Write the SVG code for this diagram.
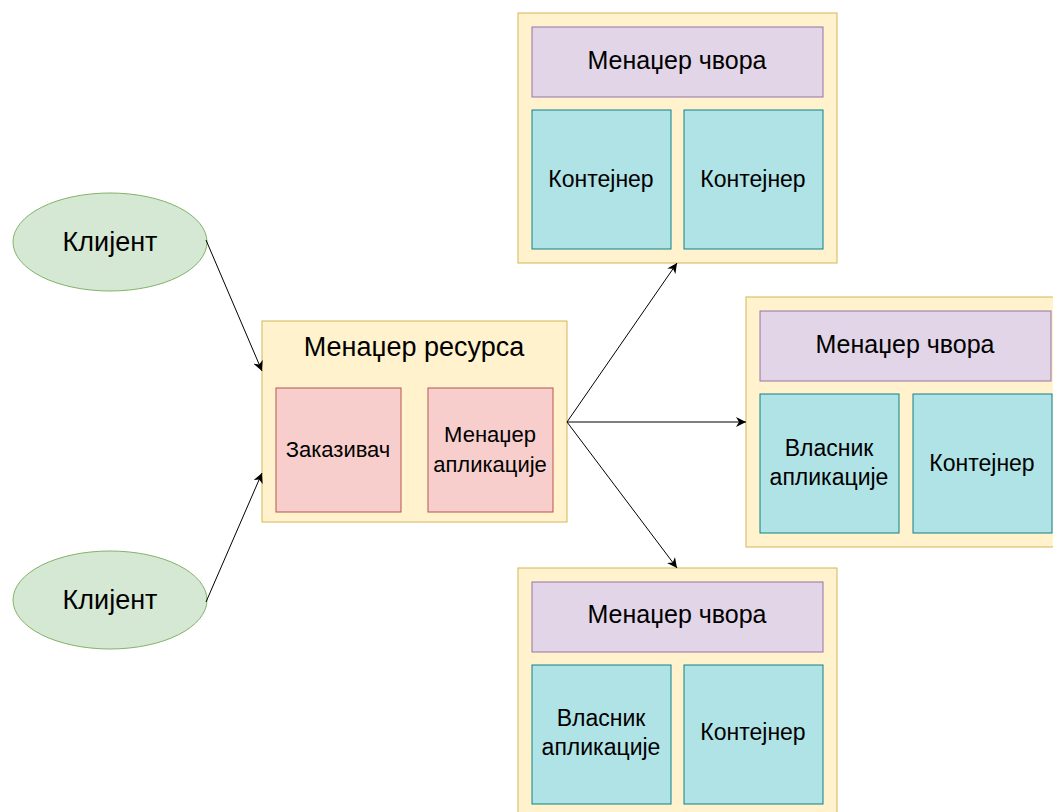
<svg xmlns="http://www.w3.org/2000/svg" width="1053" height="812" viewBox="0 0 1053 812">
  <style>
    text { font-family: "Liberation Sans", Arial, sans-serif; fill: #000; text-anchor: middle; dominant-baseline: central; }
    .client { fill: #d5e8d4; stroke: #82b366; stroke-width: 1; }
    .host { fill: #fff2cc; stroke: #d6b656; stroke-width: 1; }
    .rm { fill: #f8cecc; stroke: #b85450; stroke-width: 1; }
    .nm { fill: #e1d5e7; stroke: #9673a6; stroke-width: 1; }
    .ct { fill: #b0e3e6; stroke: #0e8088; stroke-width: 1; }
    .edge { fill: none; stroke: #000; stroke-width: 1; marker-end: url(#arrow); }
    .t27 { font-size: 27px; }
    .t25 { font-size: 25px; }
    .t23 { font-size: 23px; }
    .t22 { font-size: 22px; }
  </style>
  <defs>
    <marker id="arrow" viewBox="0 0 10 10" refX="10" refY="5" markerWidth="10" markerHeight="10" markerUnits="userSpaceOnUse" orient="auto">
      <path d="M0,0 L10,5 L0,10 L3,5 Z" fill="#000"/>
    </marker>
  </defs>

  <rect width="1053" height="812" fill="#fff"/>

  <!-- clients -->
  <g id="client1">
    <ellipse class="client" cx="110" cy="242" rx="97" ry="49"/>
    <text class="t27" x="110" y="242">Клијент</text>
  </g>
  <g id="client2">
    <ellipse class="client" cx="110" cy="600" rx="97" ry="49"/>
    <text class="t27" x="110" y="600">Клијент</text>
  </g>

  <!-- resource manager -->
  <g id="resource-manager">
    <rect class="host" x="262" y="321" width="305" height="201"/>
    <text class="t27" x="414" y="347">Менаџер ресурса</text>
    <rect class="rm" x="276" y="388" width="125" height="124"/>
    <text class="t22" x="338" y="449">Заказивач</text>
    <rect class="rm" x="428" y="388" width="125" height="124"/>
    <text class="t22" x="490" y="434">Менаџер</text>
    <text class="t22" x="490" y="464">апликације</text>
  </g>

  <!-- node 1 (top) -->
  <g id="node-top">
    <rect class="host" x="518" y="13" width="319" height="250"/>
    <rect class="nm" x="532" y="27" width="291" height="70"/>
    <text class="t25" x="677" y="60">Менаџер чвора</text>
    <rect class="ct" x="532" y="110" width="139" height="139"/>
    <text class="t23" x="601" y="179">Контејнер</text>
    <rect class="ct" x="684" y="110" width="139" height="139"/>
    <text class="t23" x="753" y="179">Контејнер</text>
  </g>

  <!-- node 2 (right) -->
  <g id="node-right">
    <rect class="host" x="746" y="297" width="319" height="250"/>
    <rect class="nm" x="760" y="311" width="291" height="70"/>
    <text class="t25" x="905" y="344">Менаџер чвора</text>
    <rect class="ct" x="760" y="394" width="139" height="139"/>
    <text class="t23" x="829" y="448">Власник</text>
    <text class="t23" x="829" y="477">апликације</text>
    <rect class="ct" x="913" y="394" width="139" height="139"/>
    <text class="t23" x="982" y="463">Контејнер</text>
  </g>

  <!-- node 3 (bottom) -->
  <g id="node-bottom">
    <rect class="host" x="518" y="568" width="319" height="250"/>
    <rect class="nm" x="532" y="582" width="291" height="70"/>
    <text class="t25" x="677" y="614">Менаџер чвора</text>
    <rect class="ct" x="532" y="665" width="139" height="139"/>
    <text class="t23" x="601" y="718">Власник</text>
    <text class="t23" x="601" y="747">апликације</text>
    <rect class="ct" x="684" y="665" width="139" height="139"/>
    <text class="t23" x="753" y="732">Контејнер</text>
  </g>

  <!-- connectors -->
  <g id="connectors">
    <line class="edge" x1="206" y1="240" x2="262" y2="371"/>
    <line class="edge" x1="206" y1="602" x2="262" y2="473"/>
    <line class="edge" x1="567" y1="422" x2="677" y2="263"/>
    <line class="edge" x1="567" y1="422" x2="746" y2="422"/>
    <line class="edge" x1="567" y1="422" x2="677" y2="568"/>
  </g>
</svg>
